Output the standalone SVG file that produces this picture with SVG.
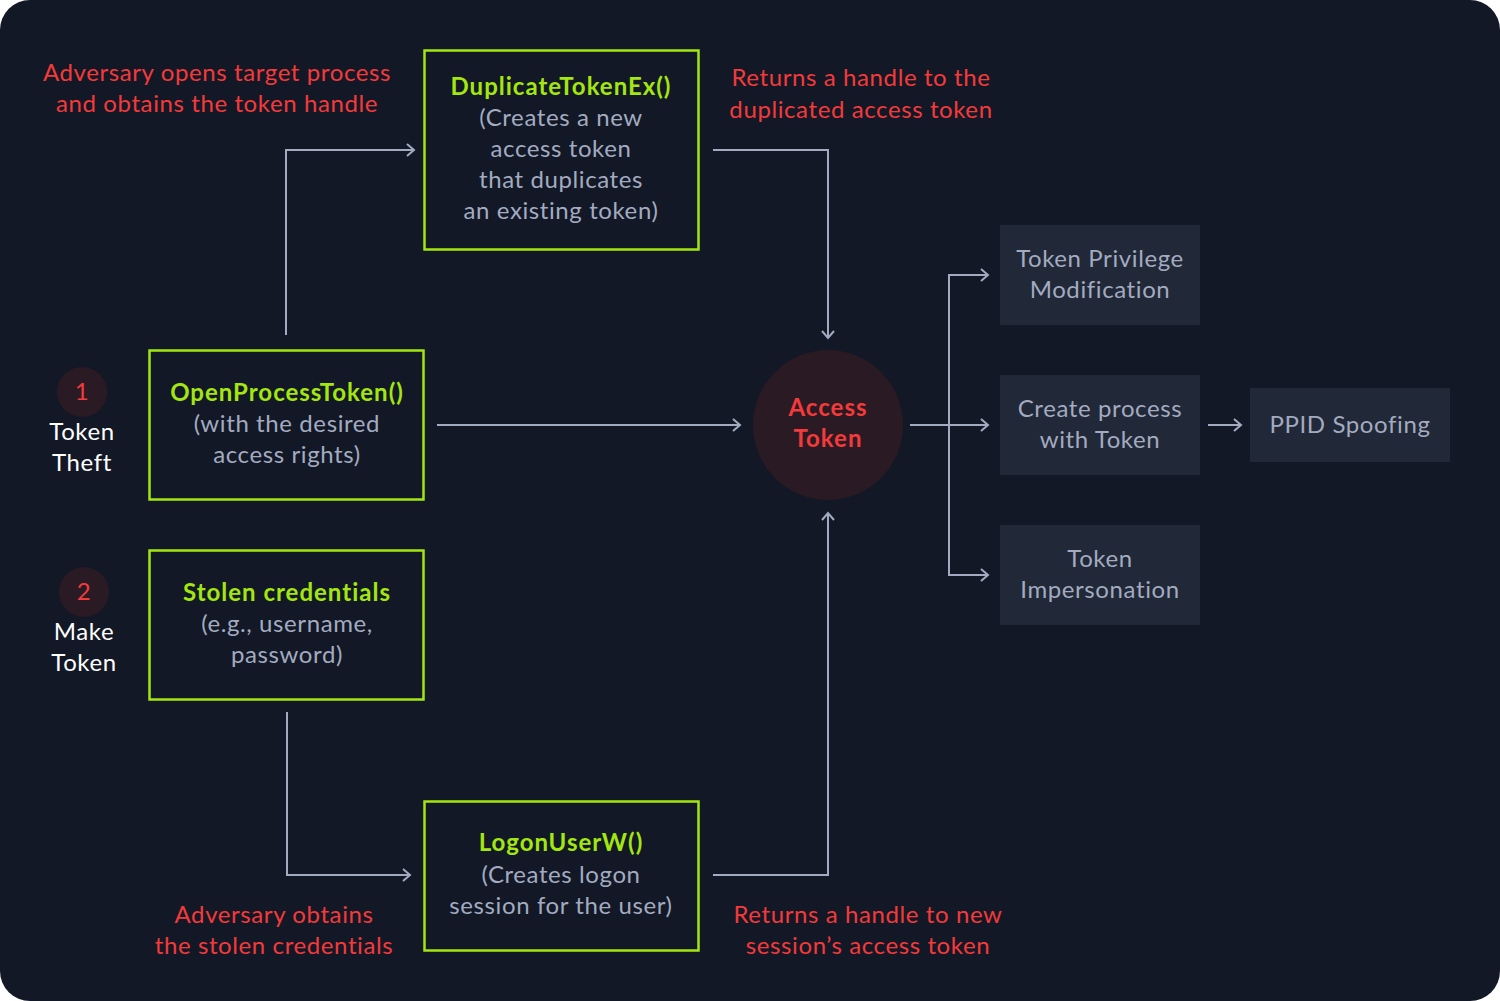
<svg xmlns="http://www.w3.org/2000/svg" width="1500" height="1001" viewBox="0 0 1500 1001">
<defs>
<marker id="arr" viewBox="0 0 12 14" refX="10" refY="7" markerWidth="12" markerHeight="14" markerUnits="userSpaceOnUse" orient="auto">
<path d="M3,1 L10,7 L3,13" fill="none" stroke="#a3abc0" stroke-width="2"/>
</marker>
<style>
text{font-family:Lato,"Open Sans","Liberation Sans",sans-serif;text-anchor:middle;font-size:24px;letter-spacing:0.6px}
.g{fill:#a3abc0}
.w{fill:#ffffff}
.r{fill:#f43a3a}
.l{fill:#a4e60f;font-weight:bold;letter-spacing:1px}
.rb{fill:#f43a3a;font-weight:bold;letter-spacing:1px}
.gb{fill:none;stroke:#a4e60f;stroke-width:2.5}
.tb{fill:#212837}
.c{fill:none;stroke:#a3abc0;stroke-width:2;marker-end:url(#arr)}
</style>
</defs>
<rect x="0" y="0" width="1500" height="1001" fill="#ffffff"/>
<rect x="0" y="0" width="1500" height="1001" rx="30" fill="#121826"/>

<g id="connectors">
<path class="c" d="M286,335 V150 H414"/>
<path class="c" d="M713,150 H828 V338"/>
<path class="c" d="M437,425 H740"/>
<path class="c" d="M713,875 H828 V513"/>
<path class="c" d="M287,712 V875 H410"/>
<path class="c" d="M910,425 H988"/>
<path class="c" d="M949,425 V275 H988"/>
<path class="c" d="M949,425 V575 H988"/>
<path class="c" d="M1208,425 H1241"/>
</g>

<g id="label-open">
<text class="r" x="217" y="81">Adversary opens target process</text>
<text class="r" x="217" y="112">and obtains the token handle</text>
</g>
<g id="label-dup">
<text class="r" x="861" y="86">Returns a handle to the</text>
<text class="r" x="861" y="118">duplicated access token</text>
</g>
<g id="label-stolen">
<text class="r" x="274" y="923">Adversary obtains</text>
<text class="r" x="274" y="954">the stolen credentials</text>
</g>
<g id="label-logon">
<text class="r" x="868" y="923">Returns a handle to new</text>
<text class="r" x="868" y="954">session’s access token</text>
</g>

<g id="node-dup">
<rect class="gb" x="424.5" y="50.5" width="274" height="199"/>
<text class="l" x="561" y="95">DuplicateTokenEx()</text>
<text class="g" x="561" y="126">(Creates a new</text>
<text class="g" x="561" y="157">access token</text>
<text class="g" x="561" y="188">that duplicates</text>
<text class="g" x="561" y="219">an existing token)</text>
</g>

<g id="node-open">
<rect class="gb" x="149.5" y="350.5" width="274" height="149"/>
<text class="l" x="287" y="401">OpenProcessToken()</text>
<text class="g" x="287" y="432">(with the desired</text>
<text class="g" x="287" y="463">access rights)</text>
</g>

<g id="node-stolen">
<rect class="gb" x="149.5" y="550.5" width="274" height="149"/>
<text class="l" x="287" y="601">Stolen credentials</text>
<text class="g" x="287" y="632">(e.g., username,</text>
<text class="g" x="287" y="663">password)</text>
</g>

<g id="node-logon">
<rect class="gb" x="424.5" y="801.5" width="274" height="149"/>
<text class="l" x="561" y="851">LogonUserW()</text>
<text class="g" x="561" y="883">(Creates logon</text>
<text class="g" x="561" y="914">session for the user)</text>
</g>

<g id="node-theft">
<circle cx="82" cy="392" r="25" fill="#2a1a24"/>
<text class="r" x="82" y="400">1</text>
<text class="w" x="82" y="440">Token</text>
<text class="w" x="82" y="471">Theft</text>
</g>

<g id="node-make">
<circle cx="84" cy="592" r="25" fill="#2a1a24"/>
<text class="r" x="84" y="600">2</text>
<text class="w" x="84" y="640">Make</text>
<text class="w" x="84" y="671">Token</text>
</g>

<g id="node-access">
<circle cx="828" cy="425" r="75" fill="#2a1a24"/>
<text class="rb" x="828" y="416">Access</text>
<text class="rb" x="828" y="447">Token</text>
</g>

<g id="node-priv">
<rect class="tb" x="1000" y="225" width="200" height="100"/>
<text class="g" x="1100" y="267">Token Privilege</text>
<text class="g" x="1100" y="298">Modification</text>
</g>

<g id="node-create">
<rect class="tb" x="1000" y="375" width="200" height="100"/>
<text class="g" x="1100" y="417">Create process</text>
<text class="g" x="1100" y="448">with Token</text>
</g>

<g id="node-imp">
<rect class="tb" x="1000" y="525" width="200" height="100"/>
<text class="g" x="1100" y="567">Token</text>
<text class="g" x="1100" y="598">Impersonation</text>
</g>

<g id="node-ppid">
<rect class="tb" x="1250" y="388" width="200" height="74"/>
<text class="g" x="1350" y="433">PPID Spoofing</text>
</g>
</svg>
